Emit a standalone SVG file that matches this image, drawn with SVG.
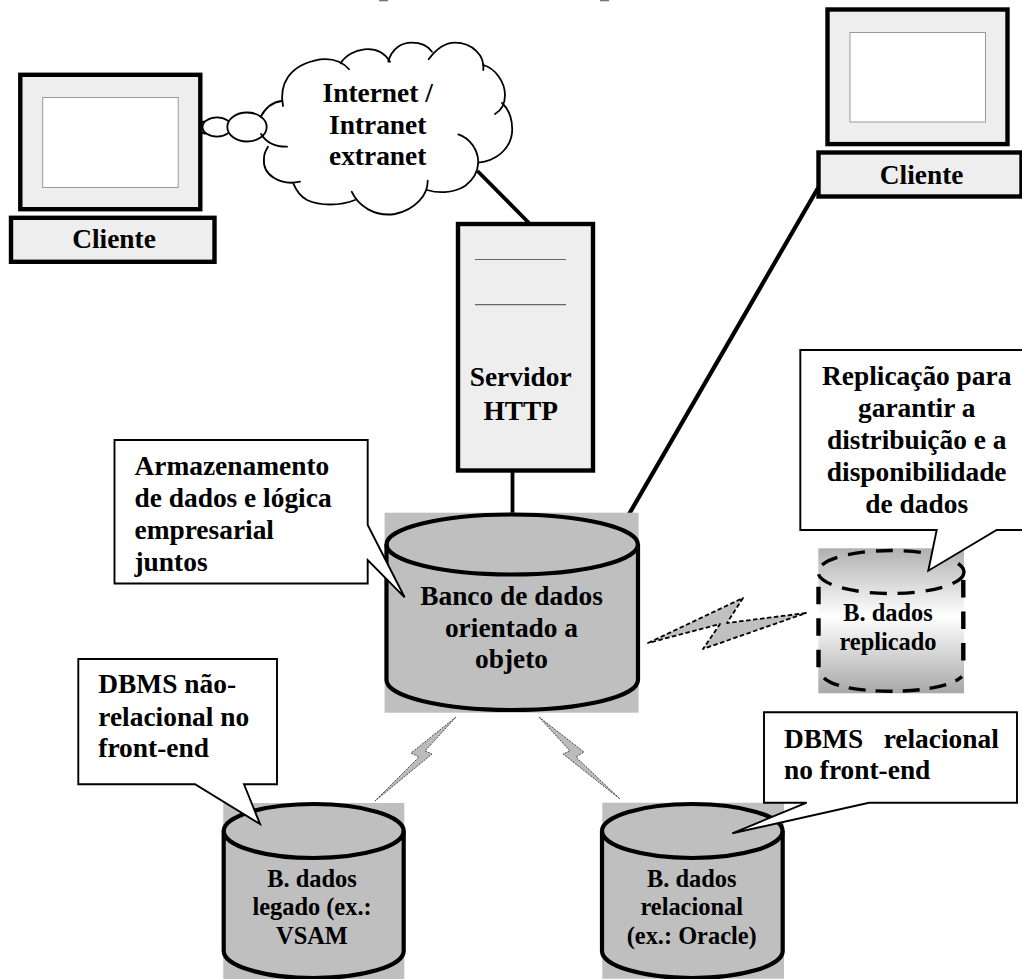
<svg xmlns="http://www.w3.org/2000/svg" width="1022" height="979" viewBox="0 0 1022 979">
<style>
text{font-family:"Liberation Serif","Times New Roman",serif;font-weight:bold;fill:#000;white-space:pre}
.t{font-size:27.4px}
.s{font-size:24.4px}
.m{text-anchor:middle}
.panel{fill:#eee;stroke:#000;stroke-width:4.4}
.screen{fill:#fff;stroke:#999;stroke-width:1}
.bg{fill:#bfbfbf}
.db{fill:none;stroke:#000;stroke-width:4.2}
.call{fill:#fff;stroke:#000;stroke-width:1.9;stroke-linejoin:miter}
.cl{fill:none;stroke:#000;stroke-width:1.8;stroke-linecap:round}
.link{stroke:#000;fill:none}
.rule{stroke:#666;stroke-width:1.2}
.bolt{fill:#bbb;stroke:#222;stroke-width:.8;stroke-dasharray:2 1.2}
.bolt2{fill:#c0c0c0;stroke:#000;stroke-width:1.8;stroke-dasharray:4.500 2.500;stroke-linejoin:round}
.dash{fill:none;stroke:#000;stroke-width:3.400}
.dashv{fill:none;stroke:#000;stroke-width:4.400;stroke-dasharray:17.500 14}
</style>
<defs>
<linearGradient id="fade" x1="0" y1="0" x2="0" y2="1">
<stop offset="0" stop-color="#b0b0b0"/><stop offset=".47" stop-color="#fff"/><stop offset="1" stop-color="#a8a8a8"/>
</linearGradient>
</defs>
<rect x="379" y="0" width="9" height="1.3" fill="#777"/>
<rect x="600" y="0" width="9" height="1.3" fill="#777"/>
<g id="connectors">
<line class="link" stroke-width="3.8" x1="477.500" y1="171" x2="529" y2="223"/>
<line class="link" stroke-width="3.8" x1="512.500" y1="470" x2="512.500" y2="516"/>
<line class="link" stroke-width="4.200" x1="818" y1="188" x2="621" y2="528"/>
<polygon class="bolt2" points="648,643 743,598 727,623 806,613 703,649 720,624"/>
<polygon class="bolt" points="456,717 411,753 419,757 375,801 432,754 425,751"/>
<polygon class="bolt" points="539,717 584,752 576,757 620,799 563,754 570,751"/>
</g>
<g id="cloud">
<ellipse class="cl" style="fill:#fff" cx="205" cy="127.500" rx="6" ry="6"/>
<ellipse class="cl" style="fill:#fff" cx="217" cy="127" rx="14.500" ry="9.700"/>
<ellipse class="cl" style="fill:#fff" cx="247" cy="127" rx="19.700" ry="14.500"/>
<path class="cl" d="M260.700,116.700C266,107 273,102 281.700,101"/>
<path class="cl" d="M283,106C279,85 288,65 320,59.300C333,58 343,62 349,69.300"/>
<path class="cl" d="M340.700,63.300C350,48 378,42 390,61.700"/>
<path class="cl" d="M388.300,61.700C392,48 402,42.700 411.700,42.700C420,42.700 428,46 432,51.700"/>
<path class="cl" d="M428.700,59.300C437,48 446,42.700 455,42.700C472,43 485,55 483.300,70"/>
<path class="cl" d="M483,65C495,68 505,82 505,95C505,103 502,110 495,114"/>
<path class="cl" d="M502,103C510,110 513,122 512,133C510,150 495,161 478.300,162.700"/>
<path class="cl" d="M458.300,134.300C470,138 478,150 478.300,162C478,172 473,180 465,186C452,194 437,193 427,190"/>
<path class="cl" d="M427.700,180.700C428,195 415,210 395,214C375,217 358,206 351.700,191.700"/>
<path class="cl" d="M355,200C340,206 320,206 307,200C300,196 296,190 293.300,183.300"/>
<path class="cl" d="M300,181.700C280,186 262,175 264,158C264,153 266,150 268,146.700"/>
<path class="cl" d="M287,146.700C275,147 266,142 261,134"/>
<text class="t m" x="377.700" y="102">Internet /</text>
<text class="t m" x="377.700" y="134">Intranet</text>
<text class="t m" x="377.700" y="165">extranet</text>
</g>
<g id="cliente-esquerda">
<rect class="panel" x="20.300" y="74.800" width="180" height="134.400"/>
<rect class="screen" x="42.700" y="97.500" width="135.500" height="90"/>
<rect class="panel" x="11" y="217.800" width="203.500" height="44"/>
<text class="t m" x="114" y="248">Cliente</text>
</g>
<g id="cliente-direita">
<rect class="panel" x="827.500" y="9.500" width="180" height="134.600"/>
<rect class="screen" x="850" y="32.500" width="135.500" height="89.500"/>
<rect class="panel" x="818.500" y="152.500" width="203" height="44"/>
<text class="t m" x="921.600" y="184">Cliente</text>
</g>
<g id="servidor">
<rect class="panel" x="458" y="224" width="135" height="246.500"/>
<line class="rule" x1="475" y1="259.500" x2="566" y2="259.500"/>
<line class="rule" x1="475" y1="304.700" x2="566" y2="304.700"/>
<text class="t m" x="520.700" y="386">Servidor</text>
<text class="t m" x="520.700" y="420">HTTP</text>
</g>
<g id="banco-objeto">
<rect class="bg" x="384.600" y="512.700" width="254" height="200"/>
<path class="db" d="M386.500,544.500V680A125.700,30 0 0 0 638,680V544.500"/>
<ellipse class="db" cx="512.200" cy="544.500" rx="125.700" ry="30"/>
<text class="t m" x="511.500" y="605">Banco de dados</text>
<text class="t m" x="511.500" y="637">orientado a</text>
<text class="t m" x="511.500" y="668">objeto</text>
</g>
<g id="banco-replicado">
<rect x="818.300" y="548.300" width="145.700" height="145" fill="url(#fade)"/>
<ellipse class="dash" cx="891" cy="572" rx="73" ry="21.500" stroke-dasharray="17 11"/>
<line class="dashv" x1="818.500" y1="586.700" x2="818.500" y2="668"/>
<line class="dashv" x1="963.300" y1="580" x2="963.300" y2="661"/>
<path class="dash" stroke-dasharray="17 10" d="M824,678C842,696 942,696 962,676.500"/>
<text class="s m" x="888" y="621">B. dados</text>
<text class="s m" x="888" y="650">replicado</text>
</g>
<g id="banco-legado">
<rect class="bg" x="223.300" y="803" width="181" height="176"/>
<path class="db" d="M223.700,831V951A90,27 0 0 0 403.700,951V831"/>
<ellipse class="db" cx="313.700" cy="831" rx="90" ry="27"/>
<text class="s m" x="312" y="887">B. dados</text>
<text class="s m" x="312" y="915">legado (ex.:</text>
<text class="s m" x="312" y="944">VSAM</text>
</g>
<g id="banco-relacional">
<rect class="bg" x="602.300" y="802.700" width="181.700" height="176"/>
<path class="db" d="M602,831V951A90.300,27 0 0 0 782.700,951V831"/>
<ellipse class="db" cx="692.300" cy="831" rx="90.300" ry="27"/>
<text class="s m" x="691.700" y="887">B. dados</text>
<text class="s m" x="691.700" y="915">relacional</text>
<text class="s m" x="691.700" y="944">(ex.: Oracle)</text>
</g>
<g id="nota-armazenamento">
<path class="call" d="M114.500,440H367.700V525L404.600,597.300L367.700,560V583.500H114.500Z"/>
<text class="t" x="134.500" y="475">Armazenamento</text>
<text class="t" x="134.500" y="507">de dados e lógica</text>
<text class="t" x="134.500" y="539">empresarial</text>
<text class="t" x="134.500" y="571">juntos</text>
</g>
<g id="nota-replicacao">
<path class="call" d="M1024,350H800.300V530H936.700L928.300,570.700L996.700,530H1024"/>
<text class="t m" x="916.700" y="385">Replicação para</text>
<text class="t m" x="916.700" y="417">garantir a</text>
<text class="t m" x="916.700" y="449">distribuição e a</text>
<text class="t m" x="916.700" y="481">disponibilidade</text>
<text class="t m" x="916.700" y="513">de dados</text>
</g>
<g id="nota-nao-relacional">
<path class="call" d="M78.300,659H277V784.300H244L260,824L195,784.300H78.300Z"/>
<text class="t" x="98.300" y="693">DBMS não-</text>
<text class="t" x="98.300" y="726">relacional no</text>
<text class="t" x="98.300" y="757">front-end</text>
</g>
<g id="nota-relacional">
<path class="call" d="M764,712.300H1017V802.700H869L732.300,833.300L806.700,802.700H764Z"/>
<text class="t" x="784" y="748">DBMS   relacional</text>
<text class="t" x="784" y="779">no front-end</text>
</g>
</svg>
